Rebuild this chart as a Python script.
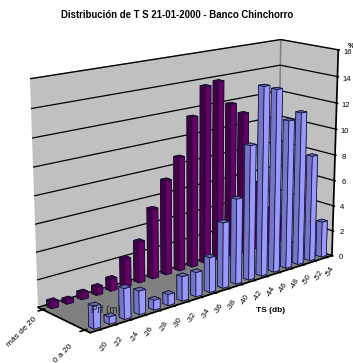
import numpy as np, matplotlib
matplotlib.use('Agg')
import matplotlib.pyplot as plt, seaborn as sns

ts_labels = ['-20','-22','-24','-26','-28','-30','-32','-34','-36','-38','-40','-42','-44','-46','-48','-50','-52','-54']
depth_labels = ['0 a 20','más de 20']
shallow = [1.6,0.5,2.2,1.7,0.7,0.8,1.8,1.8,2.6,4.9,6.4,10.1,14.2,13.8,11.3,11.7,8.2,2.8]
deep = [0.5,0.3,0.5,0.6,0.9,2.1,3.1,5.3,7.2,8.7,11.5,13.6,13.8,11.9,11.0,5.3,3.0,2.0]
z_ticks = [0,2,4,6,8,10,12,14,16]

sns.set_theme(style='white', rc={'axes.edgecolor':'black','text.color':'black','xtick.color':'black','ytick.color':'black','axes.labelcolor':'black'})
plt.rcParams['font.family']=['Liberation Sans','DejaVu Sans']

fig=plt.figure(figsize=(3.53,3.63),dpi=100)
S,cx,cy=392.4,187.8,183.4
ax=fig.add_axes([(cx-S/2)/353,(cy-S/2)/363,S/353,S/363],projection='3d',computed_zorder=False)
ax.view_init(elev=15.641,azim=-131.205)
ax.set_proj_type('persp',focal_length=0.603)
ax.set_box_aspect((1,0.258,0.691))
ax.patch.set_alpha(0)

n=len(ts_labels)
xs=np.arange(n)
ax.set_xlim(-0.65,n-0.55,view_margin=0)
ax.set_ylim(0,1,view_margin=0)
ax.set_zlim(0,16,view_margin=0)
w=0.44
d=w/18.1/0.258
def bars(vals,y,top,right,left,zo):
    cols=[]
    for _ in vals: cols+=[top,top,right,right,left,left]
    ax.bar3d(xs-w/2,np.full(n,y-d/2),np.zeros(n),w,d,vals,color=cols,shade=False,edgecolor='#101030',linewidth=0.5,zorder=zo)
bars(deep,0.905,'#4a004a','#660066','#440044',3)
bars(shallow,0.10,'#6666aa','#9999ff','#7575c8',4)

ax.set_xticks(xs); ax.set_xticklabels(ts_labels,rotation=60,fontsize=5.5,ha='center',va='center')
ax.set_yticks([0.1,0.905]); ax.set_yticklabels(depth_labels,rotation=45,fontsize=6,ha='center',va='center')
ax.set_zticks(z_ticks); ax.set_zticklabels(z_ticks,fontsize=5.5)
ax.grid(True)
ax.xaxis.gridlines.set_visible(False); ax.yaxis.gridlines.set_visible(False)
ax.zaxis._axinfo['grid'].update(color='black',linewidth=0.9)
ax.xaxis.set_pane_color('#c0c0c0'); ax.yaxis.set_pane_color('#c0c0c0'); ax.zaxis.set_pane_color('#808080')
for a in (ax.xaxis,ax.yaxis,ax.zaxis):
    a.pane.set_edgecolor('#808080')
ax.zaxis.set_ticks_position('lower')
ax.tick_params(axis='x',pad=2)
ax.tick_params(axis='y',pad=3)
ax.tick_params(axis='z',pad=-3)

fig.text(177/353,1-15/363,'Distribución de T S 21-01-2000 - Banco Chinchorro',fontsize=6.9,fontweight='bold',ha='center',va='center')
fig.text(271/353,1-311/363,'TS (db)',fontsize=6,fontweight='bold',ha='center',va='center')
fig.text(106/353,1-310/363,'Prf (m)',fontsize=7,ha='center',va='center',color='#222222')
fig.text(351/353,1-46/363,'%',fontsize=5.5,fontweight='bold',ha='center',va='center')
fig.savefig('out.png',dpi=100)
